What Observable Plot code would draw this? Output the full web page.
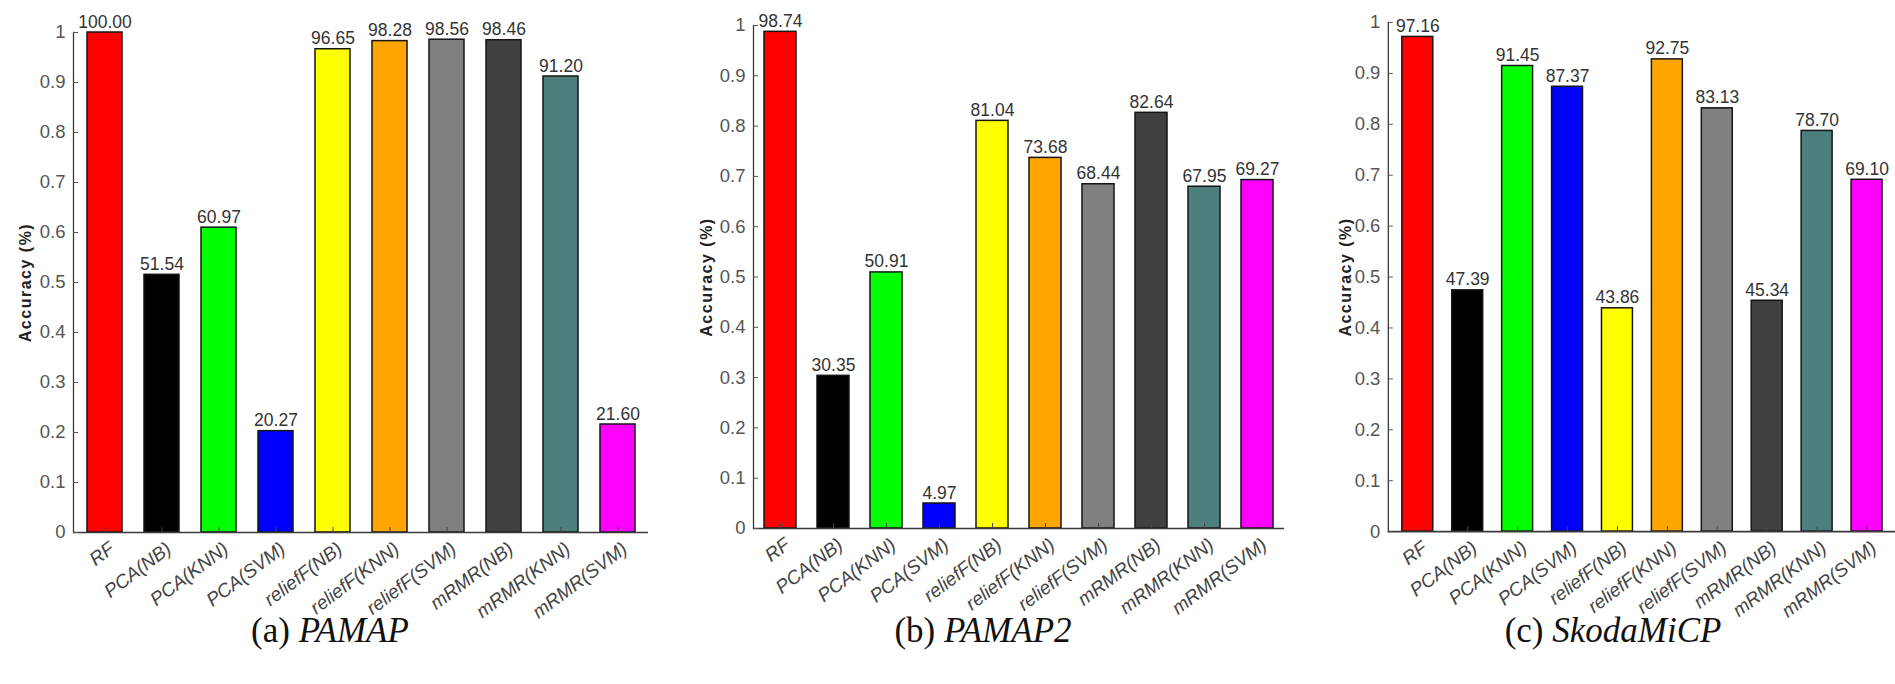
<!DOCTYPE html>
<html><head><meta charset="utf-8">
<script src="https://cdn.jsdelivr.net/npm/d3@7"></script>
<script src="https://cdn.jsdelivr.net/npm/@observablehq/plot@0.6"></script>
<style>
html,body{margin:0;padding:0;background:#fff;}
body{width:1895px;height:684px;overflow:hidden;position:relative;font-family:"Liberation Sans",Arial,sans-serif;}
.panel{position:absolute;top:0;}
.panel svg{overflow:visible;}
.cap{position:absolute;font-family:"Liberation Serif","Times New Roman",serif;font-size:35px;line-height:35px;color:#111;white-space:nowrap;transform:translateX(-50%);}
.cap i{font-style:italic;}
</style></head><body>
<script>
// ---- data ----
const categories = ["RF","PCA(NB)","PCA(KNN)","PCA(SVM)","reliefF(NB)","reliefF(KNN)","reliefF(SVM)","mRMR(NB)","mRMR(KNN)","mRMR(SVM)"];
const barColors = ["#ff0000","#000000","#00ff00","#0000ff","#ffff00","#ffa500","#808080","#404040","#4d7f7f","#ff00ff"];
const pamapValues = [100.00, 51.54, 60.97, 20.27, 96.65, 98.28, 98.56, 98.46, 91.20, 21.60];
const pamap2Values = [98.74, 30.35, 50.91, 4.97, 81.04, 73.68, 68.44, 82.64, 67.95, 69.27];
const skodaValues = [97.16, 47.39, 91.45, 87.37, 43.86, 92.75, 83.13, 45.34, 78.70, 69.10];
const yTicks = [0, 0.1, 0.2, 0.3, 0.4, 0.5, 0.6, 0.7, 0.8, 0.9, 1];
const yTickLabels = ["0","0.1","0.2","0.3","0.4","0.5","0.6","0.7","0.8","0.9","1"];
const yTitle = "Accuracy (%)";
const captionLetters = ["(a)","(b)","(c)"];
const datasetNames = ["PAMAP","PAMAP2","SkodaMiCP"];

const layouts = [
  {left:0,    width:660, mL:73, mR:12, mT:32, mB:88, labelDx:-48, capX:330},
  {left:660,  width:630, mL:93, mR:6,  mT:25, mB:92, labelDx:-47, capX:983},
  {left:1290, width:606, mL:98, mR:0,  mT:22, mB:88, labelDx:-43, capX:1613}
];
const allValues = [pamapValues, pamap2Values, skodaValues];

function makePanel(values, L) {
  const data = categories.map((c, i) => ({category: c, value: values[i] / 100, label: values[i].toFixed(2), color: barColors[i]}));
  const svg = Plot.plot({
    width: L.width, height: 620,
    marginLeft: L.mL, marginRight: L.mR, marginTop: L.mT, marginBottom: L.mB,
    style: {fontFamily: '"Liberation Sans", Arial, sans-serif', background: "transparent", overflow: "visible"},
    x: {domain: categories, paddingInner: 0.39, paddingOuter: 0.195, axis: null},
    y: {domain: [0, 1], axis: null},
    color: {type: "identity"},
    marks: [
      Plot.barY(data, {x: "category", y: "value", fill: "color", stroke: "#151515", strokeWidth: 1.5}),
      Plot.ruleY([0], {stroke: "#3a3a3a", strokeWidth: 1.6}),
      Plot.frame({anchor: "left", stroke: "#3a3a3a", strokeWidth: 1.3}),
      Plot.axisY({ticks: yTicks, tickFormat: d => yTickLabels[yTicks.indexOf(d)], tickSize: -5, tickPadding: 13, fontSize: 18.5, color: "#555", label: null}),
      Plot.axisX({tickSize: -5, tickPadding: 19, tickRotate: -37, fontSize: 19, fontStyle: "italic", color: "#444", label: null}),
      Plot.text(data, {x: "category", y: "value", text: "label", dy: -5, lineAnchor: "bottom", fontSize: 17.5, fill: "#333"}),
      Plot.text([yTitle], {frameAnchor: "left", textAnchor: "middle", dx: L.labelDx, rotate: -90, fontWeight: "bold", fontSize: 16, fill: "#222"})
    ]
  });
  // the reference's axis title is larger and drawn stretched along its length
  svg.querySelectorAll("text").forEach(t => {
    if (t.textContent === yTitle) {
      t.style.fontSize = "16px";
      t.style.fontWeight = "bold";
      t.style.letterSpacing = "1.5px";
    }
  });
  // nudge rotated x tick labels slightly right, as in the reference
  svg.querySelectorAll('g[aria-label="x-axis tick label"]').forEach(g => {
    const prev = g.getAttribute("transform") || "";
    g.setAttribute("transform", prev + " translate(7,0)");
  });
  return svg;
}

layouts.forEach((L, k) => {
  const div = document.createElement("div");
  div.className = "panel";
  div.style.left = L.left + "px";
  div.appendChild(makePanel(allValues[k], L));
  document.body.appendChild(div);
  const cap = document.createElement("div");
  cap.className = "cap";
  cap.style.left = L.capX + "px";
  cap.style.top = "613px";
  cap.innerHTML = captionLetters[k] + " <i>" + datasetNames[k] + "</i>";
  document.body.appendChild(cap);
});
</script>
</body></html>
